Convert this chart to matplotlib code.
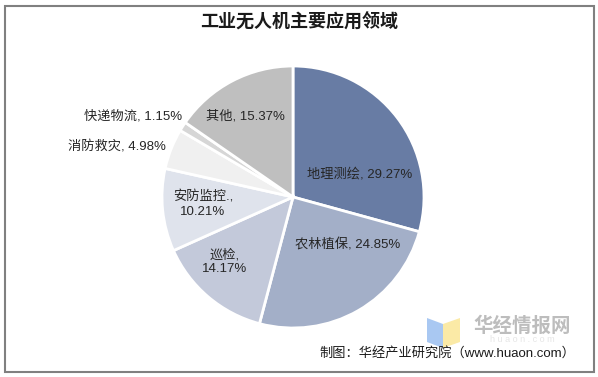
import matplotlib.pyplot as plt
from matplotlib.patches import Rectangle, Polygon

plt.rcParams['font.family'] = ['Liberation Sans', 'Noto Sans CJK SC', 'DejaVu Sans']

# data
categories = ['地理测绘', '农林植保', '巡检', '安防监控.', '消防救灾', '快递物流', '其他']
shares = [29.27, 24.85, 14.17, 10.21, 4.98, 1.15, 15.37]
colors = ['#687ca4', '#a3afc8', '#c3c9da', '#dfe3ec', '#f0f0f0', '#d6d6d6', '#bfbfbf']

W, H = 598, 377
fig = plt.figure(figsize=(W / 100, H / 100), dpi=100)
ax = fig.add_axes([0, 0, 1, 1])

# frame
ax.add_patch(Rectangle((4.5, 5.5), 589, 366, fill=False, edgecolor='#808080', lw=1.5))

cx, cy, r = 293, H - 197, 131
ax.pie(shares, colors=colors, startangle=90, counterclock=False,
       center=(cx, cy), radius=r, frame=True,
       wedgeprops=dict(edgecolor='white', linewidth=2))
ax.set_xlim(0, W)
ax.set_ylim(0, H)
ax.set_aspect('equal')
ax.axis('off')

# label positions (pixel coords from top-left) and alignment
label_pos = [(360, 174, 'center'), (348, 245, 'center'), (225, 262, 'center'),
             (203, 204, 'center'), (166, 147, 'right'), (182, 116, 'right'),
             (245, 116, 'center')]
for name, v, (x, y, ha) in zip(categories, shares, label_pos):
    if name in ('巡检', '安防监控.'):
        txt = f'{name},\n{v:.2f}%'
    else:
        txt = f'{name}, {v:.2f}%'
    ax.text(x, H - y, txt, ha=ha, va='center', fontsize=9.5, color='#262626',
            linespacing=1.25)

# title
ax.text(W / 2, H - 22, '工业无人机主要应用领域', ha='center', va='center',
        fontsize=13, fontweight='bold', color='#1a1a1a')

# watermark
ax.add_patch(Polygon([(427, H - 318), (443, H - 324), (443, H - 348), (427, H - 342)],
                     closed=True, color='#a9c8f2', lw=0))
ax.add_patch(Polygon([(443, H - 324), (460, H - 318), (460, H - 342), (443, H - 348)],
                     closed=True, color='#fbeaa6', lw=0))
ax.text(522, H - 326, '华经情报网', ha='center', va='center', fontsize=14,
        fontweight='bold', color='#bdbdbd')
ax.text(522, H - 340, 'h u a o n . c o m', ha='center', va='center', fontsize=6.5,
        color='#e6e6e6')

# source
ax.text(575, H - 353, '制图：华经产业研究院（www.huaon.com）', ha='right', va='center',
        fontsize=9.5, color='#1a1a1a')

fig.savefig('out.png', dpi=100)
